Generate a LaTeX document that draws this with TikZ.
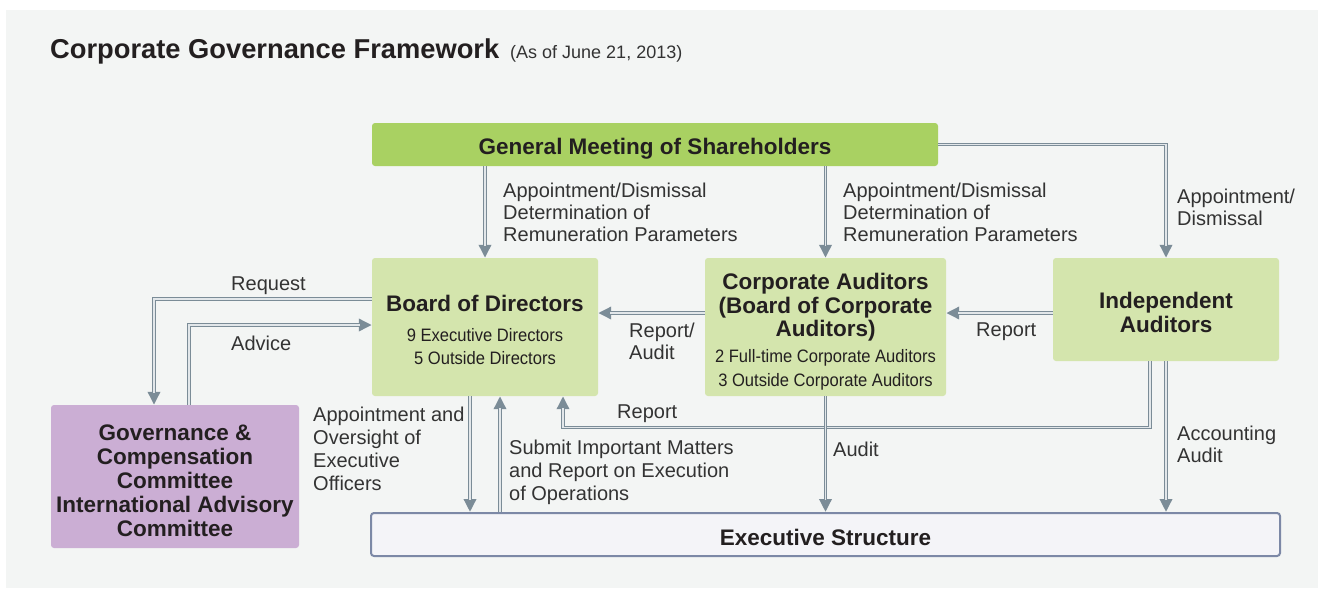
\documentclass[tikz,border=0pt]{standalone}
\usepackage{fontspec}
\setmainfont{Liberation Sans}
\newfontfamily\condfont[FakeStretch=0.92]{Liberation Sans}
\usetikzlibrary{arrows.meta}
\definecolor{panel}{HTML}{F3F5F4}
\definecolor{gmgreen}{HTML}{A9D162}
\definecolor{lgreen}{HTML}{D4E5AD}
\definecolor{lpurple}{HTML}{CBAED4}
\definecolor{exfill}{HTML}{F4F4F8}
\definecolor{exdraw}{HTML}{7C88A6}
\definecolor{agray}{HTML}{7B8C97}
\definecolor{alight}{HTML}{E2E7EA}
\definecolor{tcol}{HTML}{231F20}
\definecolor{lcol}{HTML}{333333}
\tikzset{
  box/.style={rounded corners=3pt, inner sep=0pt, align=center, text=tcol,
    font=\bfseries\fontsize{22.5}{23.5}\selectfont},
  gbox/.style={box, fill=lgreen},
  conn/.style={draw=agray, line width=3.4pt, -{Triangle[length=13pt,width=12pt]},
    postaction={draw=alight, line width=1.4pt, -, shorten >=12pt}},
  lbl/.style={anchor=north west, align=left, inner sep=0pt, text=lcol,
    font=\fontsize{20}{22}\selectfont},
  lbll/.style={lbl, font=\fontsize{20}{23}\selectfont},
}
\newcommand{\bodyline}[1]{{\condfont\mdseries\fontsize{18}{23}\selectfont #1}}
\newcommand{\topstrut}[1]{\rule{0pt}{#1pt}}
\begin{document}
\begin{tikzpicture}[x=1pt,y=-1pt]
\useasboundingbox (0,0) rectangle (1324,590);
\fill[white] (0,0) rectangle (1324,590);
\fill[panel] (6,10) rectangle (1318,588);

\node[anchor=base west, inner sep=0pt, text=tcol, font=\bfseries\fontsize{27.3}{30}\selectfont] (title) at (50,58) {Corporate Governance Framework};
\node[anchor=base west, inner sep=0pt, text=lcol, font=\fontsize{18}{20}\selectfont] (date) at (510,58) {(As of June 21, 2013)};

\node[box, fill=gmgreen, minimum width=566pt, minimum height=43pt] (gm) at (655,144.5) {\topstrut{24.5}General Meeting of Shareholders};
\node[gbox, minimum width=226pt, minimum height=138pt] (bod) at (485,327)
  {\topstrut{22.5}Board of Directors\\[6.5pt]\bodyline{9 Executive Directors}\\\bodyline{5 Outside Directors}};
\node[gbox, minimum width=241pt, minimum height=138pt] (ca) at (825.5,327)
  {\topstrut{26}Corporate Auditors\\(Board of Corporate\\Auditors)\\[2.5pt]\bodyline{2 Full-time Corporate Auditors}\\\bodyline{3 Outside Corporate Auditors}};
\node[gbox, minimum width=226pt, minimum height=103pt] (ind) at (1166,309.5) {\topstrut{22.5}Independent\\Auditors};
\node[box, fill=lpurple, minimum width=248pt, minimum height=143pt, font=\bfseries\fontsize{22.5}{24}\selectfont] (gov) at (175,476.5)
  {\topstrut{24.5}Governance \&\\Compensation\\Committee\\International Advisory\\Committee};
\node[box, fill=exfill, draw=exdraw, line width=2pt, minimum width=909pt, minimum height=43pt] (ex) at (825.5,534.5) {\topstrut{22.5}Executive Structure};

% connectors
\draw[conn] (bod.north |- gm.south) -- (bod.north);
\draw[conn] (ca.north |- gm.south) -- (ca.north);
\draw[conn] (gm.east) -| (ind.north);
\draw[conn] ([yshift=-3.5pt]ind.west) -- ([yshift=-3.5pt]ind.west -| ca.east);
\draw[conn] ([yshift=14pt]ca.west) -- ([yshift=14pt]ca.west -| bod.east);
\draw[conn] ([yshift=28pt]bod.west) -| ([xshift=-21pt]gov.north);
\draw[conn] ([xshift=14pt]gov.north) |- ([yshift=2pt]bod.west);
\draw[conn] ([xshift=-15pt]bod.south) -- ([xshift=-15pt]bod.south |- ex.north);
\draw[conn] ([xshift=15pt]bod.south |- ex.north) -- ([xshift=15pt]bod.south);
\draw[conn] ([xshift=-16pt]ind.south) -- ++(0,66) -| ([xshift=78pt]bod.south);
\draw[conn] (ca.south) -- (ca.south |- ex.north);
\draw[conn] (ind.south) -- (ind.south |- ex.north);

% labels
\node[lbl] (l1) at (503,183) {Appointment/Dismissal\\Determination of\\Remuneration Parameters};
\node[lbl] (l2) at (843,183) {Appointment/Dismissal\\Determination of\\Remuneration Parameters};
\node[lbl] (l3) at (1177,189) {Appointment/\\Dismissal};
\node[lbl] (l4) at (976,323) {Report};
\node[lbl] (l5) at (629,323) {Report/\\Audit};
\node[lbl] (l6) at (231,277) {Request};
\node[lbl] (l7) at (231,336) {Advice};
\node[lbll] (l8) at (313,407) {Appointment and\\Oversight of\\Executive\\Officers};
\node[lbll] (l9) at (509,440) {Submit Important Matters\\and Report on Execution\\of Operations};
\node[lbl] (l10) at (617,405) {Report};
\node[lbl] (l11) at (833,442) {Audit};
\node[lbl] (l12) at (1177,426) {Accounting\\Audit};
\end{tikzpicture}
\end{document}
